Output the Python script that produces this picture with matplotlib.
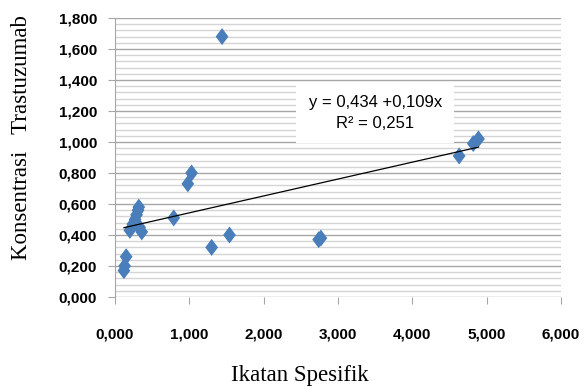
import matplotlib
matplotlib.use("Agg")
import matplotlib.pyplot as plt
from matplotlib.ticker import MultipleLocator
import numpy as np

# data
ikatan = [0.12, 0.13, 0.15, 0.20, 0.24, 0.27, 0.29, 0.31, 0.32, 0.33, 0.36,
          0.79, 0.98, 1.03, 1.30, 1.44, 1.54, 2.74, 2.77, 4.63, 4.82, 4.89]
konsentrasi = [0.17, 0.20, 0.26, 0.43, 0.47, 0.50, 0.53, 0.56, 0.58, 0.45, 0.42,
               0.51, 0.73, 0.80, 0.32, 1.68, 0.40, 0.37, 0.38, 0.91, 0.99, 1.02]
intercept = 0.434
slope = 0.109
x_ticks = [0, 1, 2, 3, 4, 5, 6]
y_ticks = [0.0, 0.2, 0.4, 0.6, 0.8, 1.0, 1.2, 1.4, 1.6, 1.8]

fig = plt.figure(figsize=(5.85, 3.87), dpi=100)
ax = fig.add_axes([115/585, 1 - 297/387, (561 - 115)/585, (297 - 18)/387])

ax.set_xlim(0, 6)
ax.set_ylim(0, 1.8)
ax.yaxis.set_minor_locator(MultipleLocator(0.04))

tick_kw = dict(family="Liberation Sans", weight="bold", fontsize=11)
ax.set_xticks(x_ticks)
ax.set_xticklabels([f"{v:.3f}".replace(".", ",") for v in x_ticks], **tick_kw)
ax.set_yticks(y_ticks)
ax.set_yticklabels([f"{v:.3f}".replace(".", ",") for v in y_ticks], **tick_kw)

# gridlines
ax.grid(which="major", axis="y", color="#a6a6a6", linewidth=1.0)
ax.grid(which="minor", axis="y", color="#d4d4d4", linewidth=1.0)
ax.set_axisbelow(True)
ax.tick_params(axis="y", which="minor", length=0)

for s in ["top", "right", "bottom"]:
    ax.spines[s].set_visible(False)
ax.spines["left"].set_color("#a6a6a6")
ax.tick_params(axis="both", which="major", color="#a6a6a6", length=5, direction="out")
ax.tick_params(axis="x", pad=17)
ax.tick_params(axis="y", pad=8)

diamond = [(0, 1), (0.75, 0), (0, -1), (-0.75, 0), (0, 1)]
ax.scatter(ikatan, konsentrasi, marker=diamond, s=150, color="#4a7ebb", zorder=3,
           edgecolors="none")

xs = np.array([min(ikatan), max(ikatan)])
ax.plot(xs, intercept + slope * xs, color="black", linewidth=0.9, zorder=4)

ax.text(3.5, 1.19, "y = 0,434 +0,109x\nR² = 0,251", ha="center", va="center",
        fontsize=12, family="Liberation Sans", linespacing=1.5,
        bbox=dict(boxstyle="square,pad=0.75", facecolor="white", edgecolor="none"),
        zorder=5)

fig.text(300/585, 1 - 376/387, "Ikatan Spesifik", ha="center", va="center",
         family="Liberation Serif", fontsize=16.5)
fig.text(22/585, 1 - 138/387, "Konsentrasi   Trastuzumab", ha="center", va="center",
         rotation=90, family="Liberation Serif", fontsize=16.5)

fig.savefig("out.png", dpi=100)
